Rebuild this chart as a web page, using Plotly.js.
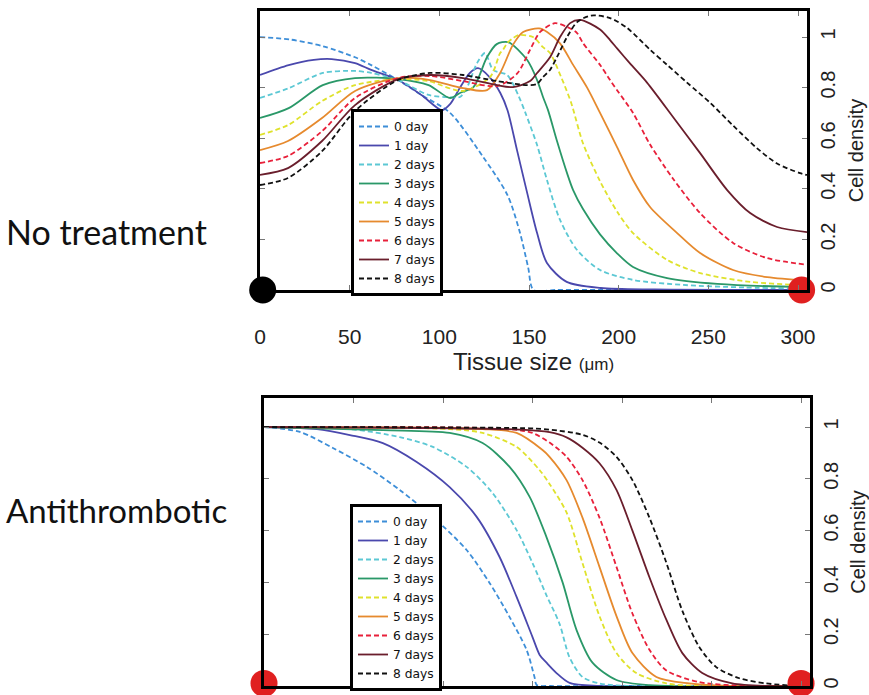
<!DOCTYPE html>
<html>
<head>
<meta charset="utf-8">
<script src="https://cdn.plot.ly/plotly-3.0.1.min.js"></script>
<style>html,body{margin:0;padding:0;background:#fff;}#chart{width:869px;height:695px;}</style>
</head>
<body>
<div id="chart"></div>
<script>
// ---------- data ----------
const dayLabels = ['0 day', '1 day', '2 days', '3 days', '4 days', '5 days', '6 days', '7 days', '8 days'];
const panelLabels = ['No treatment', 'Antithrombotic'];
const xTickVals = [0, 50, 100, 150, 200, 250, 300];
const yTickVals = [0, 0.2, 0.4, 0.6, 0.8, 1];

// No treatment (top panel): tissue size (um) vs cell density
const nt0x = [0, 17, 35, 53, 62, 77, 90, 106, 124, 138, 145, 149.5, 152.5, 165, 200, 250, 305];
const nt0y = [1.0, 0.99, 0.964, 0.92, 0.889, 0.83, 0.771, 0.70, 0.53, 0.375, 0.225, 0.09, 0.0, 0, 0, 0, 0];
const nt1x = [0, 16, 30, 40, 53, 62, 77, 90, 101.5, 106, 111.5, 117, 121.6, 128, 134, 138, 143.3, 149, 154.5, 160, 171, 190, 220, 305];
const nt1y = [0.85, 0.889, 0.91, 0.913, 0.897, 0.87, 0.83, 0.771, 0.711, 0.735, 0.80, 0.858, 0.877, 0.842, 0.779, 0.711, 0.553, 0.383, 0.225, 0.107, 0.032, 0.008, 0.002, 0];
const nt2x = [0, 16, 35, 53, 62, 77, 94, 106, 111.5, 115.4, 121, 125.5, 130, 137.8, 144, 148, 154.5, 160, 167.3, 176.8, 189.6, 208, 236, 270, 305];
const nt2y = [0.759, 0.798, 0.858, 0.866, 0.858, 0.83, 0.771, 0.762, 0.763, 0.80, 0.897, 0.937, 0.87, 0.85, 0.77, 0.70, 0.573, 0.435, 0.277, 0.158, 0.079, 0.04, 0.02, 0.01, 0.005];
const nt3x = [0, 16, 35, 53, 77, 94, 106, 111.5, 119, 126.6, 132, 138.3, 149, 154.5, 157.8, 160.6, 165.6, 171.2, 174.6, 180.1, 189.6, 199.1, 208, 227, 255, 303, 305];
const nt3y = [0.68, 0.719, 0.81, 0.838, 0.834, 0.81, 0.759, 0.779, 0.802, 0.921, 0.972, 0.98, 0.909, 0.83, 0.763, 0.711, 0.589, 0.462, 0.395, 0.32, 0.22, 0.145, 0.091, 0.047, 0.024, 0.012, 0.012];
const nt4x = [0, 15.6, 34.6, 53, 77, 93.7, 113.2, 128.3, 133.9, 135.5, 137.8, 141.1, 144.4, 152.2, 157.8, 161.7, 167.9, 173.5, 180.1, 189.6, 199.1, 208, 227, 245.4, 273.3, 301.2, 305];
const nt4y = [0.613, 0.652, 0.747, 0.81, 0.834, 0.826, 0.787, 0.842, 0.937, 0.949, 0.976, 0.996, 1.008, 1.0, 0.96, 0.937, 0.842, 0.74, 0.58, 0.43, 0.31, 0.225, 0.119, 0.067, 0.032, 0.02, 0.02];
const nt5x = [0, 15.6, 34.6, 53, 77, 94.8, 113.2, 126.6, 133.9, 141.1, 146.7, 155.6, 160.1, 167.3, 174.6, 182.4, 189.6, 199.1, 208, 217.5, 232.6, 245.4, 263.8, 282.8, 305];
const nt5y = [0.553, 0.589, 0.68, 0.787, 0.838, 0.83, 0.798, 0.79, 0.858, 0.97, 1.02, 1.034, 1.02, 0.975, 0.89, 0.80, 0.70, 0.565, 0.435, 0.328, 0.225, 0.146, 0.079, 0.051, 0.038];
const nt6x = [0, 15.6, 34.6, 53, 77, 94.8, 113.2, 132.2, 143.3, 150.6, 156.2, 164.5, 171.2, 176.8, 180.1, 189.6, 195.2, 199.1, 208, 217.5, 230.3, 245.4, 263.8, 282.8, 305];
const nt6y = [0.502, 0.53, 0.628, 0.759, 0.838, 0.846, 0.826, 0.806, 0.855, 0.95, 1.02, 1.055, 1.04, 1.016, 0.976, 0.89, 0.83, 0.79, 0.70, 0.575, 0.44, 0.304, 0.186, 0.126, 0.10];
const nt7x = [0, 15.6, 34.6, 53, 77, 94.8, 113.2, 132.2, 141.1, 150.6, 154.5, 161.7, 167.3, 172.9, 178.5, 189.6, 195.2, 199.1, 206.4, 215.8, 230.3, 245.4, 260.5, 273.3, 288.3, 305];
const nt7y = [0.455, 0.482, 0.589, 0.731, 0.834, 0.85, 0.838, 0.81, 0.802, 0.826, 0.858, 0.92, 1.0, 1.055, 1.068, 1.03, 0.988, 0.955, 0.895, 0.82, 0.684, 0.541, 0.395, 0.304, 0.249, 0.229];
const nt8x = [0, 15.6, 34.6, 53, 77, 94.8, 113.2, 132.2, 148.9, 154.5, 157.8, 161.7, 165.6, 171.2, 176.8, 184.6, 195.2, 204.7, 217.5, 227, 238.1, 251, 263.8, 277.2, 288.3, 301.2, 305];
const nt8y = [0.415, 0.443, 0.549, 0.708, 0.83, 0.858, 0.85, 0.826, 0.81, 0.815, 0.842, 0.87, 0.921, 1.0, 1.059, 1.085, 1.075, 1.036, 0.95, 0.89, 0.82, 0.74, 0.65, 0.56, 0.50, 0.462, 0.455];

// Antithrombotic (bottom panel)
const at0x = [0, 20, 38.5, 57.4, 75.8, 94.3, 113.2, 126, 137.2, 146.7, 151.1, 152.3, 160, 200, 305];
const at0y = [1.0, 0.981, 0.919, 0.846, 0.757, 0.653, 0.525, 0.398, 0.266, 0.139, 0.035, 0.004, 0, 0, 0];
const at1x = [0, 29.6, 48, 66.4, 85.3, 103.7, 118.8, 131.6, 141.1, 150, 154, 157.8, 163.4, 170.7, 187.4, 305];
const at1y = [1.0, 0.992, 0.969, 0.938, 0.865, 0.768, 0.653, 0.498, 0.344, 0.189, 0.12, 0.09, 0.05, 0.012, 0, 0];
const at2x = [0, 48, 75.8, 94.3, 113.2, 127.7, 141.1, 150, 157.8, 165.1, 170.7, 177.9, 187.4, 205, 305];
const at2y = [1.0, 0.992, 0.961, 0.923, 0.846, 0.745, 0.602, 0.475, 0.35, 0.24, 0.11, 0.035, 0.01, 0, 0];
const at3x = [0, 66.4, 103.7, 122.1, 137.2, 148.4, 157.8, 166.8, 174.6, 183.5, 196.9, 215.3, 305];
const at3y = [1.0, 0.988, 0.977, 0.938, 0.846, 0.73, 0.575, 0.40, 0.216, 0.09, 0.023, 0.003, 0];
const at4x = [0, 103.7, 122.1, 141.1, 153.9, 159.5, 169, 177.9, 187.4, 196.9, 208, 224.8, 243.2, 305];
const at4y = [1.0, 0.992, 0.977, 0.923, 0.834, 0.78, 0.67, 0.475, 0.27, 0.127, 0.05, 0.01, 0, 0];
const at5x = [0, 122.1, 141.1, 155.6, 159.5, 169, 177.9, 187.4, 196.9, 205.8, 219.2, 237.6, 260, 305];
const at5y = [1.0, 0.992, 0.977, 0.911, 0.885, 0.795, 0.65, 0.46, 0.27, 0.127, 0.035, 0.01, 0, 0];
const at6x = [0, 137.2, 150, 159.5, 169, 177.9, 187.4, 196.9, 205.8, 215.3, 224.8, 243.2, 271, 305];
const at6y = [1.0, 0.992, 0.977, 0.94, 0.885, 0.795, 0.65, 0.46, 0.28, 0.14, 0.06, 0.015, 0, 0];
const at7x = [0, 142.8, 159.5, 169, 177.9, 187.4, 196.9, 205.8, 215.3, 224.8, 233.7, 244.8, 261.6, 282, 305];
const at7y = [1.0, 0.99, 0.98, 0.96, 0.92, 0.86, 0.757, 0.60, 0.42, 0.255, 0.127, 0.05, 0.01, 0, 0];
const at8x = [0, 148.4, 159.5, 177.9, 187.4, 196.9, 205.8, 215.3, 224.8, 233.7, 243.2, 252.6, 265.5, 280.5, 299, 305];
const at8y = [1.0, 0.995, 0.99, 0.97, 0.94, 0.885, 0.795, 0.65, 0.475, 0.29, 0.15, 0.073, 0.03, 0.01, 0, 0];

// boundary dots (position along tissue, density)
const topDotsX = [1.5, 302];
const topDotsY = [0, 0];
const botDotsX = [0, 300];
const botDotsY = [0.01, 0.01];

// ---------- style ----------
const topDotColors = ['#000000', '#e02020'];
const botDotColors = ['#e02020', '#e02020'];
const lineColors = ['#3d8ed8', '#4a48ad', '#5cc8d4', '#2a9868', '#dfe22c', '#e68a2e', '#e8203a', '#6a1e2c', '#111111'];
const dashes = ['5px,3px', 'solid', '5px,3px', 'solid', '5px,3px', 'solid', '5px,3px', 'solid', '5px,3px'];

const ntX = [nt0x, nt1x, nt2x, nt3x, nt4x, nt5x, nt6x, nt7x, nt8x];
const ntY = [nt0y, nt1y, nt2y, nt3y, nt4y, nt5y, nt6y, nt7y, nt8y];
const atX = [at0x, at1x, at2x, at3x, at4x, at5x, at6x, at7x, at8x];
const atY = [at0y, at1y, at2y, at3y, at4y, at5y, at6y, at7y, at8y];

const traces = [];
dayLabels.forEach((name, i) => {
  traces.push({
    type: 'scatter', mode: 'lines', name: name,
    x: ntX[i], y: ntY[i], xaxis: 'x', yaxis: 'y', legend: 'legend',
    line: {color: lineColors[i], width: 1.8, dash: dashes[i], shape: 'spline', smoothing: 0.8},
    hoverinfo: 'skip'
  });
});
dayLabels.forEach((name, i) => {
  traces.push({
    type: 'scatter', mode: 'lines', name: name,
    x: atX[i], y: atY[i], xaxis: 'x2', yaxis: 'y2', legend: 'legend2',
    line: {color: lineColors[i], width: 1.8, dash: dashes[i], shape: 'spline', smoothing: 0.8},
    hoverinfo: 'skip'
  });
});
traces.push({type: 'scatter', mode: 'markers', x: topDotsX, y: topDotsY, xaxis: 'x', yaxis: 'y',
  marker: {size: 27, color: topDotColors}, cliponaxis: false, showlegend: false, hoverinfo: 'skip'});
traces.push({type: 'scatter', mode: 'markers', x: botDotsX, y: botDotsY, xaxis: 'x2', yaxis: 'y2',
  marker: {size: 27, color: botDotColors}, cliponaxis: false, showlegend: false, hoverinfo: 'skip'});

const W = 869, H = 695;
const fontFam = '"Liberation Sans", Arial, Helvetica, sans-serif';

function xAxis(domainPx, showLabels, anchor) {
  return {
    domain: [domainPx[0] / W, domainPx[1] / W], anchor: anchor,
    range: [0, 305], tickvals: xTickVals, showgrid: false, zeroline: false,
    showline: true, linecolor: '#000', linewidth: 3, mirror: 'ticks',
    ticks: 'inside', ticklen: 5, tickwidth: 1, tickcolor: '#777',
    showticklabels: showLabels, ticklabelstandoff: 26, automargin: false,
    tickfont: {family: fontFam, size: 21, color: '#222'}
  };
}
function yAxis(domainPx, range, anchor) {
  return {
    domain: [(H - domainPx[1]) / H, (H - domainPx[0]) / H], anchor: anchor,
    range: range, tickvals: yTickVals, side: 'right', tickangle: -90,
    showgrid: false, zeroline: false, automargin: false,
    showline: true, linecolor: '#000', linewidth: 3, mirror: 'ticks',
    ticks: 'inside', ticklen: 5, tickwidth: 1, tickcolor: '#777',
    ticklabelstandoff: 1,
    tickfont: {family: fontFam, size: 20, color: '#222'},
    title: {text: 'Cell density', font: {family: fontFam, size: 20, color: '#222'}, standoff: 11}
  };
}

const xa = xAxis([260, 807], true, 'y');
xa.title = {text: 'Tissue size <span style="font-size:17px">(μm)</span>', font: {family: fontFam, size: 24, color: '#222'}, standoff: 4};
const xa2 = xAxis([264, 810], false, 'y2');

const legendStyle = (xPx, yPx) => ({
  x: xPx / W, y: (H - yPx) / H, xanchor: 'left', yanchor: 'top',
  bgcolor: '#fff', bordercolor: '#000', borderwidth: 3,
  font: {family: '"DejaVu Sans", sans-serif', size: 12.3, color: '#111'},
  itemwidth: 30, tracegroupgap: 0
});

const layout = {
  width: W, height: H,
  margin: {l: 0, r: 0, t: 0, b: 0, autoexpand: false},
  paper_bgcolor: '#fff', plot_bgcolor: '#fff',
  showlegend: true,
  xaxis: xa,
  yaxis: yAxis([11, 290], [0, 1.103], 'x'),
  xaxis2: xa2,
  yaxis2: yAxis([398, 686], [0, 1.112], 'x2'),
  legend: legendStyle(351, 109),
  legend2: legendStyle(350, 504),
  annotations: [
    {text: panelLabels[0], xref: 'paper', yref: 'paper', x: 4 / W, y: (H - 232) / H, xanchor: 'left', yanchor: 'middle',
     showarrow: false, font: {family: 'Lato, "Open Sans", sans-serif', size: 34, color: '#111'}},
    {text: panelLabels[1], xref: 'paper', yref: 'paper', x: 4 / W, y: (H - 510) / H, xanchor: 'left', yanchor: 'middle',
     showarrow: false, font: {family: 'Lato, "Open Sans", sans-serif', size: 33, color: '#111'}}
  ]
};

Plotly.newPlot('chart', traces, layout, {staticPlot: true, displayModeBar: false});
</script>
</body>
</html>
